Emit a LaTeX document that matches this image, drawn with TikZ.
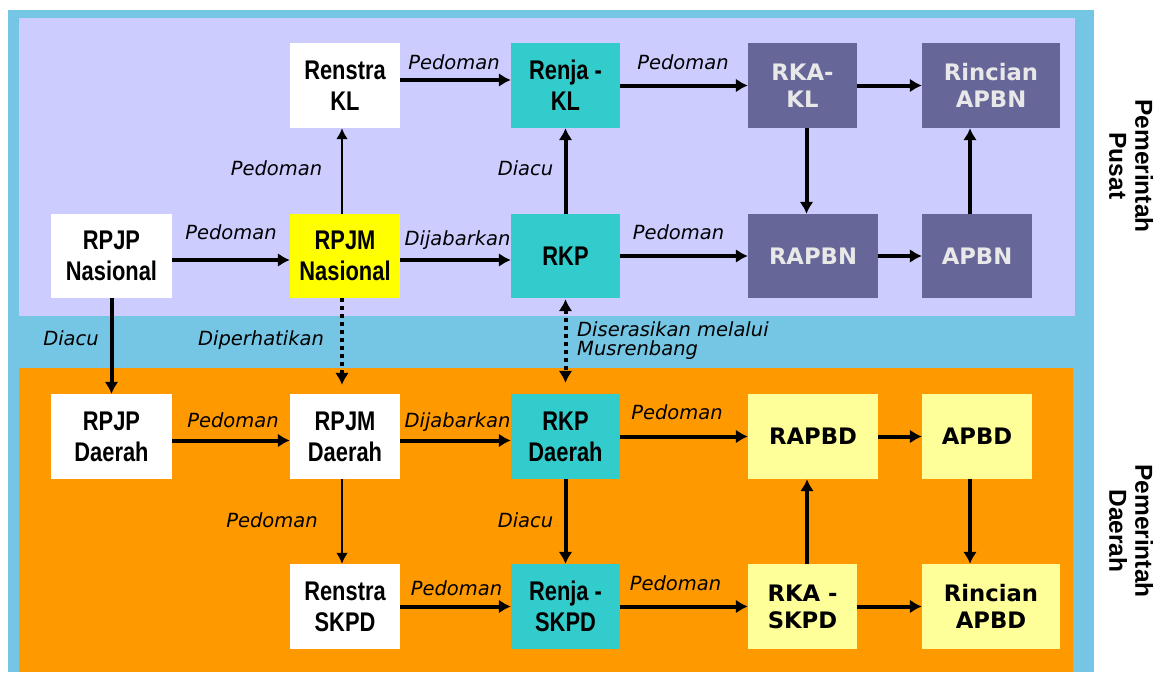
\documentclass[tikz,border=0pt]{standalone}
\usepackage{fontspec}
\setmainfont{DejaVu Sans}
\newfontfamily\narrowfont[FakeStretch=0.81]{Liberation Sans}
\newfontfamily\arialfont{Liberation Sans}
\usetikzlibrary{arrows.meta}
\definecolor{csky}{HTML}{75C6E4}
\definecolor{clav}{HTML}{CCCCFF}
\definecolor{corange}{HTML}{FF9900}
\definecolor{cteal}{HTML}{33CCCC}
\definecolor{cyel}{HTML}{FFFF00}
\definecolor{cpurple}{HTML}{666699}
\definecolor{cpale}{HTML}{FFFF99}
\definecolor{cboxtext}{HTML}{E8E8E8}

\begin{document}
\begin{tikzpicture}[x=1pt,y=-1pt,
  boxnode/.style={minimum width=110pt,minimum height=85pt,inner sep=0pt,align=center},
  narbox/.style={boxnode,font=\narrowfont\bfseries\fontsize{27}{31}\selectfont},
  widebox/.style={boxnode,font=\bfseries\fontsize{22.7}{27}\selectfont},
  pusatbox/.style={widebox,fill=cpurple,text=cboxtext},
  daerahbox/.style={widebox,fill=cpale},
  lbl/.style={font=\itshape\fontsize{19.5}{19}\selectfont,inner sep=0pt},
  sidelbl/.style={rotate=-90,align=center,font=\arialfont\bfseries\fontsize{24.5}{26}\selectfont},
  arr/.style={line width=4pt,-{Latex[length=12pt,width=14pt]}},
  thinarr/.style={line width=2.5pt,-{Latex[length=11pt,width=12pt]}},
  dotarr/.style={line width=4pt,dash pattern=on 4pt off 4pt}]
\useasboundingbox (0,0) rectangle (1166,672);
\fill[white] (0,0) rectangle (1166,672);
\fill[csky] (8,10) rectangle (1094,672);
\fill[clav] (19,18) rectangle (1075,316);
\fill[corange] (19,368) rectangle (1073,672);

\node[narbox,fill=white] (renstrakl) at (345,85.5) {Renstra\\KL};
\node[narbox,fill=cteal,minimum width=109pt] (renjakl) at (565.5,85.5) {Renja -\\KL};
\node[pusatbox,minimum width=109pt] (rkakl) at (802.5,85.5) {RKA-\\KL};
\node[pusatbox,minimum width=138pt] (rincianapbn) at (991,85.5) {Rincian\\APBN};
\node[narbox,fill=white,minimum width=121pt,minimum height=84pt] (rpjpnas) at (111.5,256) {RPJP\\Nasional};
\node[narbox,fill=cyel,minimum height=84pt] (rpjmnas) at (345,256) {RPJM\\Nasional};
\node[narbox,fill=cteal,minimum width=109pt,minimum height=84pt] (rkp) at (565.5,256) {RKP};
\node[pusatbox,minimum width=130pt,minimum height=84pt] (rapbn) at (813,256) {RAPBN};
\node[pusatbox,minimum height=84pt] (apbn) at (977,256) {APBN};

\node[narbox,fill=white,minimum width=121pt] (rpjpd) at (111.5,436.5) {RPJP\\Daerah};
\node[narbox,fill=white] (rpjmd) at (345,436.5) {RPJM\\Daerah};
\node[narbox,fill=cteal,minimum width=109pt] (rkpd) at (565.5,436.5) {RKP\\Daerah};
\node[daerahbox,minimum width=130pt] (rapbd) at (813,436.5) {RAPBD};
\node[daerahbox] (apbd) at (977,436.5) {APBD};
\node[narbox,fill=white] (renstraskpd) at (345,606.5) {Renstra\\SKPD};
\node[narbox,fill=cteal,minimum width=109pt] (renjaskpd) at (565.5,606.5) {Renja -\\SKPD};
\node[daerahbox,minimum width=109pt] (rkaskpd) at (802.5,606.5) {RKA -\\SKPD};
\node[daerahbox,minimum width=138pt] (rincianapbd) at (991,606.5) {Rincian\\APBD};

\node[sidelbl] (pusat) at (1131,166) {Pemerintah\\Pusat};
\node[sidelbl] (daerah) at (1131,531) {Pemerintah\\Daerah};

\draw[arr] ([yshift=5.5pt]renstrakl.east) -- ([yshift=5.5pt]renjakl.west);
\draw[arr] (renjakl) -- (rkakl);
\draw[arr] (rkakl) -- (rincianapbn);
\draw[arr] ([yshift=-4pt]rpjpnas.east) -- ([yshift=-4pt]rpjmnas.west);
\draw[arr] ([yshift=-4pt]rpjmnas.east) -- ([yshift=-4pt]rkp.west);
\draw[arr] (rkp) -- (rapbn);
\draw[arr] (rapbn) -- (apbn);
\draw[thinarr] ([xshift=-3pt]rpjmnas.north) -- ([xshift=-3pt]renstrakl.south);
\draw[arr] (rkp) -- (renjakl);
\draw[arr] ([xshift=4pt]rkakl.south) -- ([xshift=4pt]rkakl.south |- rapbn.north);
\draw[arr] ([xshift=-7pt]apbn.north) -- ([xshift=-7pt]apbn.north |- rincianapbn.south);

\draw[arr] (rpjpnas) -- (rpjpd);
\draw[dotarr,-{Latex[length=12pt,width=14pt]},shorten >=9pt] ([xshift=-3pt]rpjmnas.south) -- ([xshift=-3pt]rpjmd.north);
\draw[dotarr,{Latex[length=12pt,width=14pt]}-{Latex[length=12pt,width=14pt]},shorten <=1pt,shorten >=11pt] (rkp) -- (rkpd);

\draw[arr] ([yshift=-4pt]rpjpd.east) -- ([yshift=-4pt]rpjmd.west);
\draw[arr] ([yshift=-4pt]rpjmd.east) -- ([yshift=-4pt]rkpd.west);
\draw[arr] (rkpd) -- (rapbd);
\draw[arr] (rapbd) -- (apbd);
\draw[thinarr] ([xshift=-3pt]rpjmd.south) -- ([xshift=-3pt]renstraskpd.north);
\draw[arr] (rkpd) -- (renjaskpd);
\draw[arr] (renstraskpd) -- (renjaskpd);
\draw[arr] (renjaskpd) -- (rkaskpd);
\draw[arr] (rkaskpd) -- (rincianapbd);
\draw[arr] ([xshift=4.5pt]rkaskpd.north) -- ([xshift=4.5pt]rkaskpd.north |- rapbd.south);
\draw[arr] ([xshift=-7pt]apbd.south) -- ([xshift=-7pt]apbd.south |- rincianapbd.north);

\node[lbl] (l1) at (454,62) {Pedoman};
\node[lbl] (l2) at (683,62) {Pedoman};
\node[lbl] (l3) at (231,232) {Pedoman};
\node[lbl] (l4) at (457.5,240) {Dijabarkan};
\node[lbl] (l5) at (678.5,232) {Pedoman};
\node[lbl] (l6) at (276.5,168) {Pedoman};
\node[lbl] (l7) at (525.5,168) {Diacu};
\node[lbl] (l8) at (71,338) {Diacu};
\node[lbl] (l9) at (261,340) {Diperhatikan};
\node[lbl,anchor=west,align=left] (l10) at (577,341) {Diserasikan melalui\\Musrenbang};
\node[lbl] (l11) at (233,420) {Pedoman};
\node[lbl] (l12) at (457.5,422) {Dijabarkan};
\node[lbl] (l13) at (677,412) {Pedoman};
\node[lbl] (l14) at (272,520) {Pedoman};
\node[lbl] (l15) at (525.5,520) {Diacu};
\node[lbl] (l16) at (456.5,588) {Pedoman};
\node[lbl] (l17) at (675.5,583) {Pedoman};
\end{tikzpicture}
\end{document}
